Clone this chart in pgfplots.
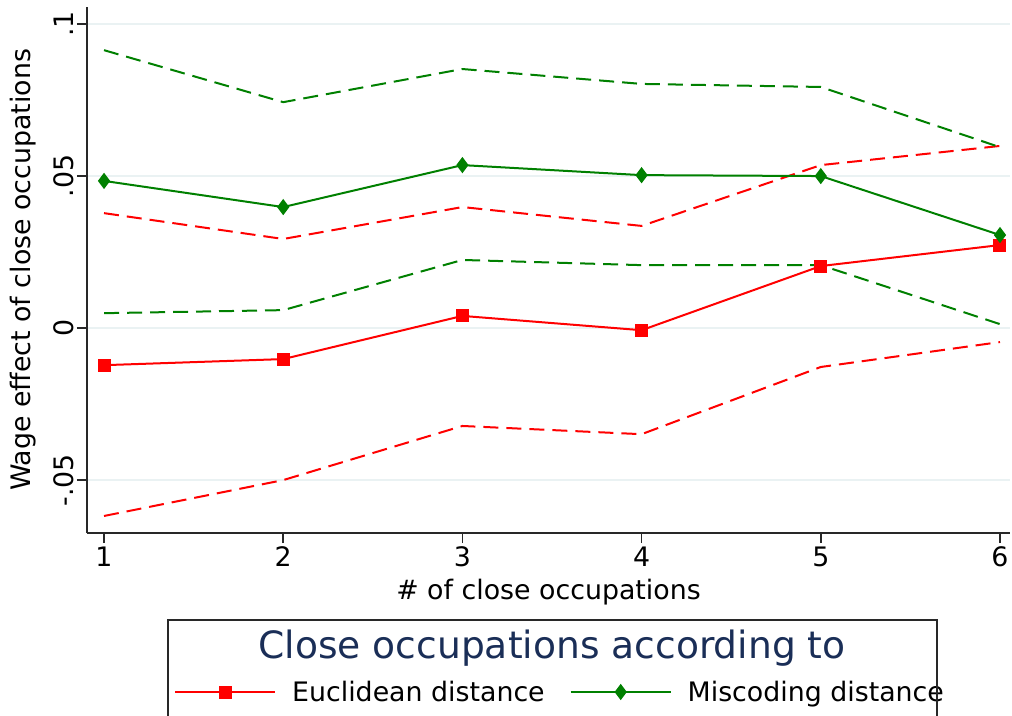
\documentclass[border=0pt]{standalone}
\usepackage{pgfplots}
\pgfplotsset{compat=1.18}
\usepackage{fontspec}
\setmainfont{DejaVu Sans}
\definecolor{sred}{RGB}{255,0,0}
\definecolor{sgreen}{RGB}{0,128,0}
\definecolor{stitle}{RGB}{26,46,87}
\definecolor{sgrid}{RGB}{234,242,243}
\definecolor{saxis}{RGB}{40,40,40}
\newcommand\lbl{\fontsize{26.8}{32}\selectfont}

\begin{document}
\begin{tikzpicture}
\begin{axis}[
  name=ax,
  scale only axis, width=923pt, height=526pt,
  xmin=0.905, xmax=6.056, ymin=-0.0674, ymax=0.1056,
  axis x line*=bottom, axis y line*=left,
  axis line style={-, line width=1.6pt, draw=saxis},
  xtick={1,2,3,4,5,6},
  ytick={-0.05,0,0.05,0.1}, yticklabels={-.05,0,.05,.1},
  tick align=outside, major tick length=10pt,
  tick style={line width=1.6pt, draw=saxis},
  ymajorgrids, grid style={line width=1.6pt, draw=sgrid},
  /pgf/number format/assume math mode=true,
  ticklabel style={font=\lbl},
  yticklabel style={rotate=90, anchor=south},
  xlabel={\# of close occupations},
  ylabel={Wage effect of close occupations},
  label style={font=\lbl},
  xlabel style={yshift=-5pt},
  ylabel style={yshift=10pt},
  legend columns=2,
  legend style={at={(rel axis cs:0.5125,-0.3023)}, anchor=center,
    draw=none, fill=none, font=\lbl,
    /tikz/every odd column/.append style={column sep=14pt},
    /tikz/every even column/.append style={column sep=23pt}},
  legend image code/.code={\draw[mark repeat=2,mark phase=2,#1]
    plot coordinates {(0pt,0pt) (50pt,0pt) (100pt,0pt)};},
]
% confidence bounds, Euclidean distance
\addplot[sred, line width=2pt, dash pattern=on 15pt off 8pt, forget plot]
  coordinates {(1,0.0378) (2,0.0293) (3,0.0398) (4,0.0336) (5,0.0536) (6,0.0599)};
\addplot[sred, line width=2pt, dash pattern=on 15pt off 8pt, forget plot]
  coordinates {(1,-0.0618) (2,-0.0500) (3,-0.0322) (4,-0.0349) (5,-0.0128) (6,-0.0046)};
% point estimates
\addplot[sred, line width=2pt, mark=square*, mark size=5.5pt]
  coordinates {(1,-0.0122) (2,-0.0102) (3,0.0040) (4,-0.0007) (5,0.0204) (6,0.0273)};
\addlegendentry{Euclidean distance}
\addplot[sgreen, line width=2pt, mark=diamond*, mark size=6.5pt]
  coordinates {(1,0.0484) (2,0.0398) (3,0.0536) (4,0.0503) (5,0.0500) (6,0.0306)};
\addlegendentry{Miscoding distance}
% confidence bounds, miscoding distance
\addplot[sgreen, line width=2pt, dash pattern=on 15pt off 8pt, forget plot]
  coordinates {(1,0.0914) (2,0.0743) (3,0.0852) (4,0.0803) (5,0.0793) (6,0.0595)};
\addplot[sgreen, line width=2pt, dash pattern=on 15pt off 8pt, forget plot]
  coordinates {(1,0.0049) (2,0.0059) (3,0.0224) (4,0.0207) (5,0.0207) (6,0.0013)};
\end{axis}
% legend frame and title
\draw[line width=1.4pt, saxis]
  ([shift={(81pt,-250pt)}]ax.south west) -- ([shift={(81pt,-87pt)}]ax.south west)
  -- ([shift={(850pt,-87pt)}]ax.south west) -- ([shift={(850pt,-250pt)}]ax.south west);
\node[text=stitle, font=\fontsize{37.6}{45}\selectfont, inner sep=0pt]
  at ([shift={(465pt,-115pt)}]ax.south west) {Close occupations according to};
\pgfresetboundingbox
\path[use as bounding box] ([shift={(-87pt,-182pt)}]ax.south west)
  rectangle ([shift={(925pt,533pt)}]ax.south west);
\end{tikzpicture}
\end{document}
